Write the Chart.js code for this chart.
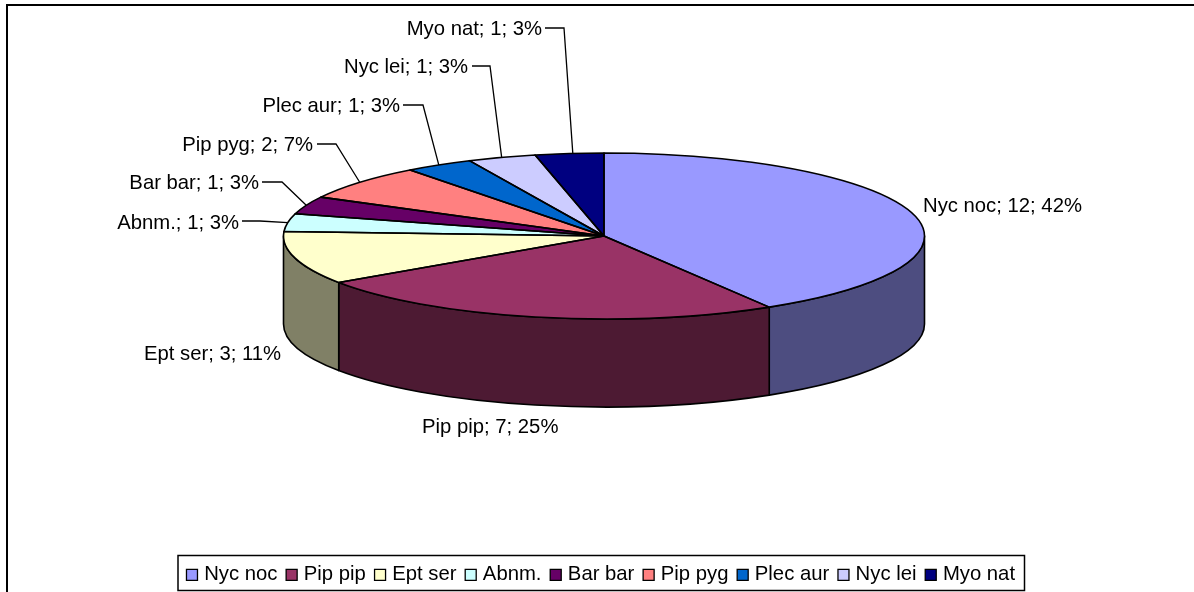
<!DOCTYPE html>
<html>
<head>
<meta charset="utf-8">
<style>
  html, body { margin: 0; padding: 0; background: #fff; overflow: hidden; }
  #wrap { position: relative; width: 1194px; height: 592px; }
</style>
<script src="https://cdn.jsdelivr.net/npm/chart.js@4/dist/chart.umd.js"></script>
</head>
<body>
<div id="wrap"><canvas id="chart" width="1194" height="592"></canvas></div>
<script>
const categories = ['Nyc noc', 'Pip pip', 'Ept ser', 'Abnm.', 'Bar bar', 'Pip pyg', 'Plec aur', 'Nyc lei', 'Myo nat'];
const counts = [12, 7, 3, 1, 1, 2, 1, 1, 1];
const percentLabels = ['42%', '25%', '11%', '3%', '3%', '7%', '3%', '3%', '3%'];
const topColors = ['#9999FF', '#993366', '#FFFFCC', '#CCFFFF', '#660066', '#FF8080', '#0066CC', '#CCCCFF', '#000080'];
const sideColors = ['#4D4D80', '#4D1A33', '#808066', '#668080', '#330033', '#804040', '#003366', '#666680', '#000040'];

// Ellipse of the tilted pie on the page
const pie = { cx: 604, cy: 236, rx: 320.5, ry: 83, depth: 88 };
const FONT_FAMILY = '"Liberation Sans", Arial, sans-serif';
const FONT_SIZE = 20.3;

// Where each label sits: text anchor, then the leader line elbow (null = no leader)
const labelLayout = [
  { x: 923, y: 206, align: 'left', leader: null },
  { x: 422, y: 427, align: 'left', leader: null },
  { x: 144, y: 354, align: 'left', leader: null },
  { x: 239, y: 223, align: 'right', leader: [[242, 221], [260, 221]] },
  { x: 259, y: 183, align: 'right', leader: [[262, 182], [282, 182]] },
  { x: 313, y: 145, align: 'right', leader: [[317, 144], [336, 144]] },
  { x: 400, y: 106, align: 'right', leader: [[403, 105], [423, 105]] },
  { x: 468, y: 67, align: 'right', leader: [[472, 66], [490, 66]] },
  { x: 542, y: 29, align: 'right', leader: [[545, 28], [564, 28]] }
];
// Where each leader touches the rim, as a fraction across the slice
const leaderAnchor = [0, 0, 0, 0.5, 0.5, 0.5, 0.5, 0.5, 0.55];

function ellipsePoint(angle) {
  return [pie.cx + pie.rx * Math.cos(angle), pie.cy + pie.ry * Math.sin(angle)];
}

const tiltPlugin = {
  id: 'tilt',
  beforeDatasetsDraw(chart) {
    const ctx = chart.ctx;
    const arcs = chart.getDatasetMeta(0).data;
    // side wall first, only the front half of the rim shows
    ctx.save();
    ctx.lineWidth = 1.6;
    ctx.strokeStyle = '#000';
    ctx.lineJoin = 'round';
    arcs.forEach((arc, i) => {
      const a0 = Math.max(arc.startAngle, 0);
      const a1 = Math.min(arc.endAngle, Math.PI);
      if (a1 <= a0) return;
      ctx.beginPath();
      ctx.ellipse(pie.cx, pie.cy, pie.rx, pie.ry, 0, a0, a1);
      ctx.ellipse(pie.cx, pie.cy + pie.depth, pie.rx, pie.ry, 0, a1, a0, true);
      ctx.closePath();
      ctx.fillStyle = sideColors[i];
      ctx.fill();
      ctx.stroke();
    });
    ctx.restore();
    // squash the library's round pie onto the ellipse
    const first = arcs[0];
    ctx.save();
    ctx.translate(pie.cx, pie.cy);
    ctx.scale(pie.rx / first.outerRadius, pie.ry / first.outerRadius);
    ctx.translate(-first.x, -first.y);
  },
  afterDatasetsDraw(chart) {
    const ctx = chart.ctx;
    ctx.restore();
    const arcs = chart.getDatasetMeta(0).data;
    // outlines in page space so the stroke width stays even
    ctx.save();
    ctx.lineWidth = 1.6;
    ctx.strokeStyle = '#000';
    ctx.lineJoin = 'round';
    arcs.forEach(arc => {
      ctx.beginPath();
      ctx.moveTo(pie.cx, pie.cy);
      ctx.ellipse(pie.cx, pie.cy, pie.rx, pie.ry, 0, arc.startAngle, arc.endAngle);
      ctx.closePath();
      ctx.stroke();
    });
    ctx.restore();
    drawLabels(chart, arcs);
  },
  afterDraw(chart) {
    const ctx = chart.ctx;
    ctx.save();
    ctx.strokeStyle = '#000';
    ctx.lineWidth = 2;
    ctx.beginPath();
    ctx.moveTo(7, 592);
    ctx.lineTo(7, 5);
    ctx.lineTo(1194, 5);
    ctx.stroke();
    ctx.lineWidth = 1.5;
    ctx.strokeRect(178, 555.5, 846.5, 35);
    ctx.restore();
  }
};

function drawLabels(chart, arcs) {
  const ctx = chart.ctx;
  ctx.save();
  ctx.font = `${FONT_SIZE}px ${FONT_FAMILY}`;
  ctx.fillStyle = '#000';
  ctx.textBaseline = 'middle';
  ctx.lineWidth = 1.3;
  ctx.strokeStyle = '#000';
  categories.forEach((name, i) => {
    const place = labelLayout[i];
    ctx.textAlign = place.align;
    ctx.fillText(`${name}; ${counts[i]}; ${percentLabels[i]}`, place.x, place.y);
    if (!place.leader) return;
    const arc = arcs[i];
    const mid = arc.startAngle + (arc.endAngle - arc.startAngle) * leaderAnchor[i];
    const rim = ellipsePoint(mid);
    ctx.beginPath();
    ctx.moveTo(place.leader[0][0], place.leader[0][1]);
    ctx.lineTo(place.leader[1][0], place.leader[1][1]);
    ctx.lineTo(rim[0], rim[1]);
    ctx.stroke();
  });
  ctx.restore();
}

new Chart(document.getElementById('chart'), {
  type: 'pie',
  data: {
    labels: categories,
    datasets: [{
      data: counts,
      backgroundColor: topColors,
      borderWidth: 0,
      clip: false
    }]
  },
  plugins: [tiltPlugin],
  options: {
    responsive: false,
    animation: false,
    events: [],
    radius: 200,
    layout: { padding: { left: 11, bottom: -3 } },
    plugins: {
      tooltip: { enabled: false },
      legend: {
        position: 'bottom',
        labels: {
          usePointStyle: true,
          pointStyle: 'rect',
          boxWidth: 4,
          boxHeight: 11,
          padding: 12.25,
          color: '#000',
          font: { family: FONT_FAMILY, size: FONT_SIZE },
          generateLabels() {
            return categories.map((name, i) => ({
              text: name,
              fillStyle: topColors[i],
              strokeStyle: '#000',
              lineWidth: 1.3,
              pointStyle: 'rect',
              index: i
            }));
          }
        }
      }
    }
  }
});
</script>
</body>
</html>
